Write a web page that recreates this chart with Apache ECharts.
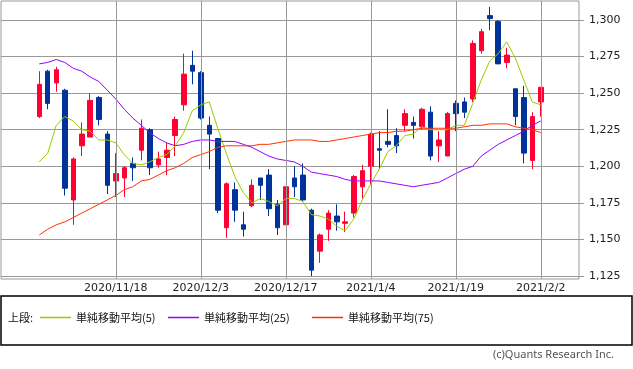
<!DOCTYPE html>
<html>
<head>
<meta charset="utf-8">
<script src="https://cdn.jsdelivr.net/npm/echarts@6/dist/echarts.min.js"></script>
<style>
html,body{margin:0;padding:0;background:#fff;}
#chart{width:633px;height:369px;}
</style>
</head>
<body>
<div id="chart"></div>
<script>
const dates = ['2020/11/5','2020/11/6','2020/11/9','2020/11/10','2020/11/11','2020/11/12','2020/11/13','2020/11/16','2020/11/17','2020/11/18',
'2020/11/19','2020/11/20','2020/11/24','2020/11/25','2020/11/26','2020/11/27','2020/11/30','2020/12/1','2020/12/2','2020/12/3',
'2020/12/4','2020/12/7','2020/12/8','2020/12/9','2020/12/10','2020/12/11','2020/12/14','2020/12/15','2020/12/16','2020/12/17',
'2020/12/18','2020/12/21','2020/12/22','2020/12/23','2020/12/24','2020/12/25','2020/12/28','2020/12/29','2020/12/30','2021/1/4',
'2021/1/5','2021/1/6','2021/1/7','2021/1/8','2021/1/12','2021/1/13','2021/1/14','2021/1/15','2021/1/18','2021/1/19',
'2021/1/20','2021/1/21','2021/1/22','2021/1/25','2021/1/26','2021/1/27','2021/1/28','2021/1/29','2021/2/1','2021/2/2'];

const openP  = [1234,1265,1257,1252,1177,1214,1220,1247,1222,1190, 1192,1202,1211,1225,1201,1206,1221,1242,1269,1264,
                1228,1219,1158,1184,1160,1173,1192,1194,1174,1160, 1192,1194,1170,1142,1157,1166,1161,1168,1186,1200,
                1212,1217,1221,1228,1230,1227,1237,1214,1207,1243, 1244,1246,1279,1303,1299,1271,1253,1247,1204,1244];
const closeP = [1256,1243,1266,1185,1205,1222,1245,1232,1187,1195, 1199,1199,1226,1199,1205,1211,1232,1263,1265,1233,
                1222,1170,1188,1170,1157,1187,1187,1171,1158,1186, 1186,1177,1129,1153,1168,1162,1162,1193,1197,1222,
                1211,1215,1214,1236,1228,1239,1207,1218,1236,1236, 1237,1284,1292,1301,1270,1276,1234,1209,1234,1254];
const lowP   = [1233,1239,1251,1180,1160,1207,1220,1228,1181,1179, 1179,1190,1204,1194,1199,1194,1207,1238,1256,1232,
                1198,1168,1151,1162,1152,1172,1177,1166,1153,1160, 1179,1176,1125,1134,1149,1156,1155,1165,1178,1187,
                1198,1213,1209,1224,1219,1225,1204,1203,1207,1224, 1233,1244,1277,1293,1270,1267,1228,1202,1198,1234];
const highP  = [1265,1266,1268,1253,1206,1230,1250,1248,1224,1209, 1200,1206,1232,1226,1210,1216,1234,1277,1279,1265,
                1234,1219,1189,1189,1169,1191,1192,1198,1177,1186, 1200,1202,1171,1154,1170,1174,1169,1194,1201,1223,
                1224,1239,1226,1239,1234,1240,1241,1224,1237,1245, 1247,1286,1294,1309,1300,1281,1253,1255,1237,1254];

const ma5  = [1203,1209,1228,1234,1231,1225,1224,1218,1218,1216, 1208,1202,1201,1203,1206,1208,1214,1223,1238,1242,
              1244,1226,1209,1193,1182,1175,1178,1176,1173,1178, 1178,1176,1167,1166,1164,1159,1156,1164,1177,1188,
              1198,1210,1214,1221,1222,1227,1225,1225,1225,1228, 1228,1243,1259,1272,1277,1285,1274,1259,1244,1242];
const ma25 = [1270,1271,1273,1271,1267,1265,1261,1258,1252,1246, 1239,1233,1228,1223,1219,1216,1214,1215,1217,1218,
              1218,1217,1217,1217,1215,1213,1210,1207,1205,1204, 1203,1200,1196,1195,1194,1193,1191,1190,1190,1190,
              1190,1189,1188,1187,1186,1187,1188,1189,1192,1195, 1198,1200,1207,1211,1215,1218,1221,1224,1228,1231];
const ma75 = [1153,1157,1160,1162,1165,1168,1171,1174,1177,1180, 1184,1186,1190,1191,1194,1197,1199,1202,1206,1208,
              1210,1213,1214,1214,1214,1214,1215,1215,1216,1217, 1218,1218,1218,1217,1217,1218,1219,1220,1221,1222,
              1223,1223,1224,1224,1225,1226,1226,1226,1226,1226, 1227,1228,1228,1229,1229,1229,1227,1226,1225,1223];

const labelDates = ['2020/11/18','2020/12/3','2020/12/17','2021/1/4','2021/1/19','2021/2/2'];
const yTicks = {min:1125, max:1300, step:25};
const seriesNames = ['単純移動平均(5)','単純移動平均(25)','単純移動平均(75)'];
const seriesColors = ['#99cc00','#9900ff','#ff3300'];
const PAD = 4;

const cats = [];
for (let k = 0; k < PAD; k++) cats.push('pre' + k);
dates.forEach(d => cats.push(d));
for (let k = 0; k < PAD; k++) cats.push('post' + k);

const candleData = dates.map((d, i) => [i + PAD, openP[i], closeP[i], lowP[i], highP[i]]);
const lineData = arr => arr.map((v, i) => [i + PAD, v]);

const latin = 'DejaVu Sans';
const cjk = '"Noto Sans CJK JP", "Noto Sans", sans-serif';
const GRID = '#999';

const chart = echarts.init(document.getElementById('chart'), null, {renderer: 'canvas'});
const legendLefts = [40, 168, 312];
const legends = seriesNames.map((n, k) => ({
  data: [{name: n, icon: 'rect', itemStyle: {color: seriesColors[k], borderWidth: 0}}],
  left: legendLefts[k], top: 312, padding: 0,
  icon: 'rect', itemWidth: 31, itemHeight: 1.5, selectedMode: false,
  textStyle: {fontFamily: cjk, fontSize: 11, color: '#111'}
}));
const lineSeries = [ma5, ma25, ma75].map((arr, k) => ({
  name: seriesNames[k], type: 'line', xAxisIndex: 1, yAxisIndex: 1, data: lineData(arr),
  showSymbol: false, clip: false,
  lineStyle: {color: seriesColors[k], width: 1}, itemStyle: {color: seriesColors[k]}
}));
chart.setOption({
  animation: false,
  backgroundColor: '#fff',
  textStyle: {fontFamily: latin},
  grid: [
    {left: 1, right: 54, top: 1, bottom: 90, show: true, borderColor: GRID, borderWidth: 1, backgroundColor: 'transparent'},
    {left: 1, right: 54, top: 20, bottom: 93}
  ],
  legend: legends,
  xAxis: [
    {gridIndex: 0, type: 'category', data: cats, boundaryGap: true,
     axisLine: {show: false}, axisTick: {show: false}, splitLine: {show: false},
     axisLabel: {interval: (idx, val) => labelDates.indexOf(val) >= 0, fontSize: 11, color: '#222', fontFamily: latin, margin: 4}},
    {gridIndex: 1, type: 'category', data: cats, boundaryGap: true, show: false}
  ],
  yAxis: [
    {gridIndex: 0, type: 'value', min: 0, max: 1, show: false},
    {gridIndex: 1, type: 'value', position: 'right', min: yTicks.min, max: yTicks.max, interval: yTicks.step,
     axisLine: {show: false},
     axisTick: {show: true, length: 5, lineStyle: {color: GRID}},
     splitLine: {show: true, lineStyle: {color: GRID, width: 1}},
     axisLabel: {margin: 10, fontSize: 11, color: '#222', fontFamily: latin,
                 formatter: v => v.toLocaleString('en-US')}}
  ],
  series: [
    {type: 'line', xAxisIndex: 0, yAxisIndex: 0, data: [], silent: true,
     markLine: {symbol: ['none','none'], silent: true, animation: false, label: {show: false},
                lineStyle: {color: GRID, type: 'solid', width: 1},
                emphasis: {disabled: true},
                data: labelDates.map(d => ({xAxis: d}))}},
    {type: 'candlestick', xAxisIndex: 1, yAxisIndex: 1, data: candleData, barWidth: 5, clip: false,
     encode: {x: 0, y: [1,2,3,4]},
     itemStyle: {color: '#ff0033', color0: '#003399', borderColor: '#ff0033', borderColor0: '#003399', borderWidth: 1}}
  ].concat(lineSeries),
  graphic: [
    {type: 'rect', shape: {x: 1, y: 296, width: 631, height: 49}, style: {fill: 'none', stroke: '#000', lineWidth: 1.5}, silent: true},
    {type: 'text', x: 8, y: 318, style: {text: '上段:', font: '11px "Noto Sans CJK JP"', fill: '#111', verticalAlign: 'middle'}, silent: true},
    {type: 'text', x: 614, y: 355, style: {text: '(c)Quants Research Inc.', font: '11px "Noto Sans"', fill: '#555', align: 'right', verticalAlign: 'middle'}, silent: true}
  ]
});
</script>
</body>
</html>
